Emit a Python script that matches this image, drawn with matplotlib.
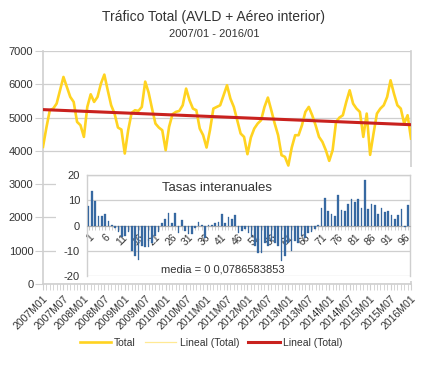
import numpy as np
import matplotlib.pyplot as plt

# monthly total traffic, 2007M01 .. 2016M01
total = [
    4120, 4700, 5220, 5270, 5420, 5820, 6220, 5920, 5620, 5470, 4870, 4770,   # 2007
    4420, 5320, 5700, 5470, 5620, 6020, 6290, 5820, 5370, 5120, 4700, 4640,   # 2008
    3920, 4620, 5140, 5220, 5200, 5320, 6080, 5750, 5270, 4820, 4700, 4620,   # 2009
    4020, 4720, 5100, 5170, 5200, 5370, 5870, 5520, 5270, 5220, 4670, 4470,   # 2010
    4100, 4620, 5270, 5320, 5370, 5670, 5970, 5570, 5320, 4920, 4520, 4420,   # 2011
    3900, 4400, 4670, 4820, 4920, 5320, 5600, 5220, 4820, 4470, 3870, 3820,   # 2012
    3560, 4100, 4470, 4470, 4770, 5170, 5320, 5070, 4770, 4420, 4270, 4020,   # 2013
    3700, 4020, 4870, 5000, 5070, 5470, 5820, 5420, 5270, 5170, 4420, 5120,   # 2014
    3880, 4520, 5120, 5270, 5370, 5620, 6120, 5720, 5370, 5270, 4820, 5070,   # 2015
    4370,                                                                     # 2016M01
]

tick_labels = ['2007M01', '2007M07', '2008M01', '2008M07', '2009M01', '2009M07',
               '2010M01', '2010M07', '2011M01', '2011M07', '2012M01', '2012M07',
               '2013M01', '2013M07', '2014M01', '2014M07', '2015M01', '2015M07',
               '2016M01']

# year-on-year rates (inset), 1 .. 97
rates = [
    7.7, 13.6, 9.8, 3.7, 3.7, 4.4, 1.7, 0.3, -1.0, -2.5,
    -4.5, -4.0, -2.5, -10.0, -12.0, -13.5, -8.0, -8.5, -8.5, -7.0,
    -4.0, -2.5, 1.0, 2.5, 4.8, 1.0, 4.8, -3.0, 2.0, -2.0,
    -3.5, -3.5, -1.0, 1.5, 0.2, -5.0, 0.2, 0.3, 0.8, 1.5,
    4.5, 0.8, 3.5, 2.5, 4.0, -3.0, -2.0, -1.5, -3.0, -4.5,
    -8.0, -10.8, -11.0, -7.0, -8.0, -6.0, -7.0, -8.0, -14.2, -12.2,
    -7.0, -10.0, -6.0, -7.0, -4.0, -5.0, -3.0, -2.5, -1.5, 0.2,
    7.0, 11.0, 5.7, 4.6, 3.7, 12.0, 6.3, 5.7, 8.7, 10.6,
    9.3, 10.6, 7.0, 17.9, 6.7, 8.6, 8.1, 4.6, 7.0, 5.3,
    5.7, 4.0, 2.7, 4.0, 6.6, -0.5, 8.3,
]
rate_labels = [str(k) for k in range(1, 98, 5)]

W, H = 434, 366
plt.rcParams['font.family'] = ['Liberation Sans', 'DejaVu Sans']


def fx(x):
    return x / W


def fy(y):
    return 1 - y / H


fig = plt.figure(figsize=(W / 100, H / 100), dpi=100)
fig.patch.set_facecolor('white')

grid_c = '#cfcfcf'
text_c = '#333333'

# main chart
ax = fig.add_axes([fx(43), fy(284), fx(411) - fx(43), fy(51) - fy(284)])
idx = np.arange(len(total))
ax.plot(idx, total, color='#ffd320', lw=1.9, solid_joinstyle='round', zorder=3, label='Total')

coef = np.polyfit(idx, total, 1)
trend = np.polyval(coef, idx)
ax.plot(idx, trend, color='#ffe994', lw=0.9, zorder=4, label='Lineal (Total)')
ax.plot(idx, trend, color='#c9211e', lw=2.2, zorder=4, label='Lineal (Total)')

ax.set_xlim(0, len(total) - 1)
ax.set_ylim(0, 7000)
ax.set_yticks(range(0, 7001, 1000))
ax.yaxis.grid(True, color=grid_c, lw=0.9)
ax.set_axisbelow(True)
ax.set_xticks(idx, minor=True)
ax.set_xticks(idx[::6])
ax.set_xticklabels(tick_labels, rotation=45, ha='right', va='top',
                   rotation_mode='anchor', fontsize=7.5, color=text_c)
ax.tick_params(axis='x', which='both', length=4, color=grid_c, pad=3)
ax.tick_params(axis='y', length=6, color=grid_c, labelsize=8, labelcolor=text_c, pad=1)
ax.spines['top'].set_visible(False)
for s in ['left', 'right', 'bottom']:
    ax.spines[s].set_color(grid_c)
    ax.spines[s].set_linewidth(1.2)

fig.text(fx(213), fy(17), 'Tráfico Total (AVLD + Aéreo interior)', ha='center', va='center',
         fontsize=10, color=text_c)
fig.text(fx(214), fy(34), '2007/01 - 2016/01', ha='center', va='center',
         fontsize=8, color=text_c)

# inset background
bg = fig.add_axes([fx(56), fy(281), fx(416) - fx(56), fy(167) - fy(281)], zorder=5)
bg.set_facecolor('white')
bg.set_xticks([])
bg.set_yticks([])
for s in bg.spines.values():
    s.set_visible(False)

# inset chart
ins = fig.add_axes([fx(87), fy(276), fx(410) - fx(87), fy(175) - fy(276)], zorder=6)
k = np.arange(1, len(rates) + 1)
ins.bar(k, rates, width=0.5, color='#3a6ca6', edgecolor='#2a5a90', lw=0.2, zorder=3)
ins.set_xlim(0.5, len(rates) + 0.6)
ins.set_ylim(-20, 20)
ins.set_yticks([-20, -10, 0, 10, 20])
ins.set_yticklabels(['-20', '-10', '0', '10', '20'])
ins.yaxis.grid(True, color=grid_c, lw=0.9)
ins.set_axisbelow(True)
ins.tick_params(axis='y', length=0, labelsize=8, labelcolor=text_c, pad=5)
ins.spines['bottom'].set_position(('data', 0))
ins.spines['bottom'].set_color('#b0b0b0')
ins.set_xticks(k, minor=True)
ins.set_xticks(k[::5])
ins.set_xticklabels(rate_labels, rotation=45, ha='right', va='top',
                    rotation_mode='anchor', fontsize=7.5, color=text_c)
ins.tick_params(axis='x', which='both', length=3, color='#c8c8c8', pad=2)
for s in ['left', 'top', 'right']:
    ins.spines[s].set_color(grid_c)
    ins.spines[s].set_linewidth(1.0)

fig.text(fx(217), fy(188), 'Tasas interanuales', ha='center', va='center',
         fontsize=9.5, color=text_c, zorder=7)
fig.text(fx(223), fy(269), 'media = 0 0,0786583853', ha='center', va='center',
         fontsize=8, color=text_c, zorder=7)

fig.legend(loc='center', bbox_to_anchor=(fx(211), fy(343)), ncol=3, frameon=False,
           fontsize=7.5, handlelength=3.0, handletextpad=0.3, columnspacing=0.9,
           labelcolor=text_c)

fig.savefig('out.png', dpi=100, facecolor='white')
